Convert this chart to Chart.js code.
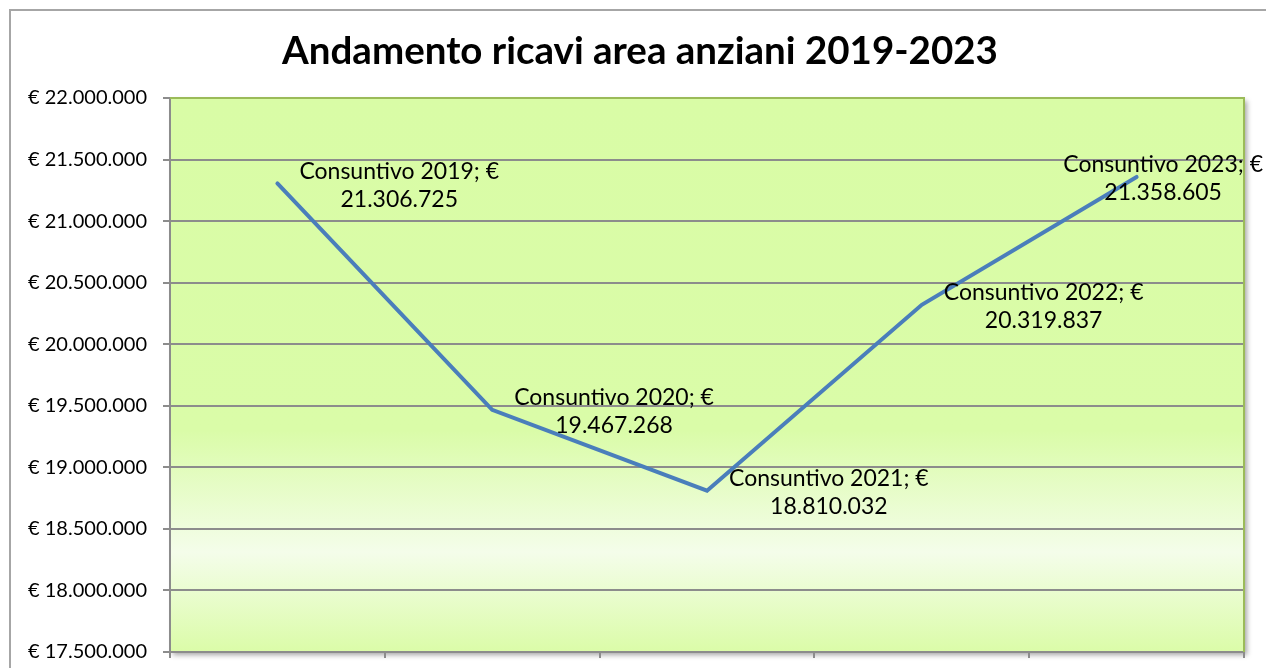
<!DOCTYPE html>
<html>
<head>
<meta charset="utf-8">
<script src="https://cdn.jsdelivr.net/npm/chart.js@4.4.1/dist/chart.umd.min.js"></script>
<style>
  html, body { margin: 0; padding: 0; background: #ffffff; }
  canvas { display: block; }
</style>
</head>
<body>
<canvas id="ricaviChart" width="1266" height="668"></canvas>
<script>
// Dati
const categories = ['Consuntivo 2019', 'Consuntivo 2020', 'Consuntivo 2021', 'Consuntivo 2022', 'Consuntivo 2023'];
const ricavi = [21306725, 19467268, 18810032, 20319837, 21358605];
const yMin = 17500000;
const yMax = 22000000;
const yStep = 500000;
const chartTitle = 'Andamento ricavi area anziani 2019-2023';

const FONT = 'Lato, "Open Sans", sans-serif';

// formato italiano: 21.306.725
function formatNum(n) {
    return String(Math.round(n)).replace(/\B(?=(\d{3})+(?!\d))/g, '.');
}

// sfondo area del grafico (gradiente verde) + cornice esterna
const plotBackground = {
    id: 'plotBackground',
    beforeDraw(chart) {
        const { ctx, chartArea: a } = chart;
        ctx.save();
        // cornice esterna grigia (esce dal riquadro a destra e in basso)
        ctx.strokeStyle = '#a6a6a6';
        ctx.lineWidth = 2;
        ctx.strokeRect(10, 10, chart.width + 40, chart.height + 40);

        const g = ctx.createLinearGradient(0, a.top, 0, a.bottom);
        g.addColorStop(0, '#d9fca6');
        g.addColorStop(0.6, '#dafca8');
        g.addColorStop(0.82, '#f4fdea');
        g.addColorStop(1, '#dbfca8');
        ctx.shadowColor = 'rgba(0,0,0,0.35)';
        ctx.shadowBlur = 5;
        ctx.shadowOffsetX = 3;
        ctx.shadowOffsetY = 3;
        ctx.fillStyle = g;
        ctx.fillRect(a.left, a.top, a.right - a.left, a.bottom - a.top);
        ctx.restore();

        // titolo
        ctx.save();
        ctx.fillStyle = '#000000';
        ctx.font = 'bold 38.5px ' + FONT;
        ctx.textAlign = 'center';
        ctx.textBaseline = 'middle';
        ctx.fillText(chartTitle, 640, 52);
        ctx.restore();
    },
    afterDraw(chart) {
        const { ctx, chartArea: a } = chart;
        ctx.save();
        ctx.strokeStyle = '#9bbb59';
        ctx.lineWidth = 2;
        ctx.beginPath();
        ctx.moveTo(a.left, a.top);
        ctx.lineTo(a.right, a.top);
        ctx.lineTo(a.right, a.bottom);
        ctx.stroke();
        ctx.restore();
    }
};

// etichette dati "Consuntivo 2019; €" / "21.306.725"
const pointLabels = {
    id: 'pointLabels',
    afterDatasetsDraw(chart) {
        const { ctx } = chart;
        const meta = chart.getDatasetMeta(0);
        ctx.save();
        ctx.font = '23px ' + FONT;
        ctx.fillStyle = '#000000';
        ctx.textAlign = 'center';
        ctx.textBaseline = 'middle';
        meta.data.forEach((pt, i) => {
            const l1 = categories[i] + '; €';
            const l2 = formatNum(ricavi[i]);
            const w = Math.max(ctx.measureText(l1).width, ctx.measureText(l2).width);
            let left = pt.x + 22;
            if (left + w > chart.width - 3) left = chart.width - 3 - w;
            const cx = left + w / 2;
            ctx.fillText(l1, cx, pt.y - 12);
            ctx.fillText(l2, cx, pt.y + 16);
        });
        ctx.restore();
    }
};

const ctx = document.getElementById('ricaviChart').getContext('2d');
new Chart(ctx, {
    type: 'line',
    data: {
        labels: categories,
        datasets: [{
            label: 'Ricavi',
            data: ricavi,
            borderColor: '#4a7ebb',
            borderWidth: 4,
            borderCapStyle: 'round',
            borderJoinStyle: 'miter',
            pointRadius: 0,
            pointHoverRadius: 0,
            tension: 0,
            fill: false
        }]
    },
    options: {
        responsive: false,
        devicePixelRatio: 1,
        animation: false,
        layout: { padding: { top: 98, right: 22, left: 0, bottom: 0 } },
        plugins: {
            legend: { display: false },
            title: { display: false },
            tooltip: { enabled: false }
        },
        scales: {
            x: {
                type: 'category',
                offset: true,
                grid: {
                    offset: true,
                    drawOnChartArea: false,
                    drawTicks: true,
                    tickLength: 6,
                    color: '#8c8c8c',
                    lineWidth: 2
                },
                border: { color: '#8c8c8c', width: 2 },
                ticks: { display: false },
                afterFit(scale) {
                    scale.height = 16;
                    scale.paddingLeft = 0;
                    scale.paddingRight = 0;
                }
            },
            y: {
                min: yMin,
                max: yMax,
                grid: {
                    color: '#8c8c8c',
                    lineWidth: 2,
                    tickLength: 7,
                    drawTicks: true
                },
                border: { color: '#8c8c8c', width: 2 },
                ticks: {
                    stepSize: yStep,
                    padding: 16,
                    color: '#000000',
                    font: { family: FONT, size: 20 },
                    callback: v => '€ ' + formatNum(v)
                },
                afterFit(scale) {
                    scale.width = 170;
                    scale.paddingTop = 0;
                    scale.paddingBottom = 0;
                }
            }
        }
    },
    plugins: [plotBackground, pointLabels]
});
</script>
</body>
</html>
